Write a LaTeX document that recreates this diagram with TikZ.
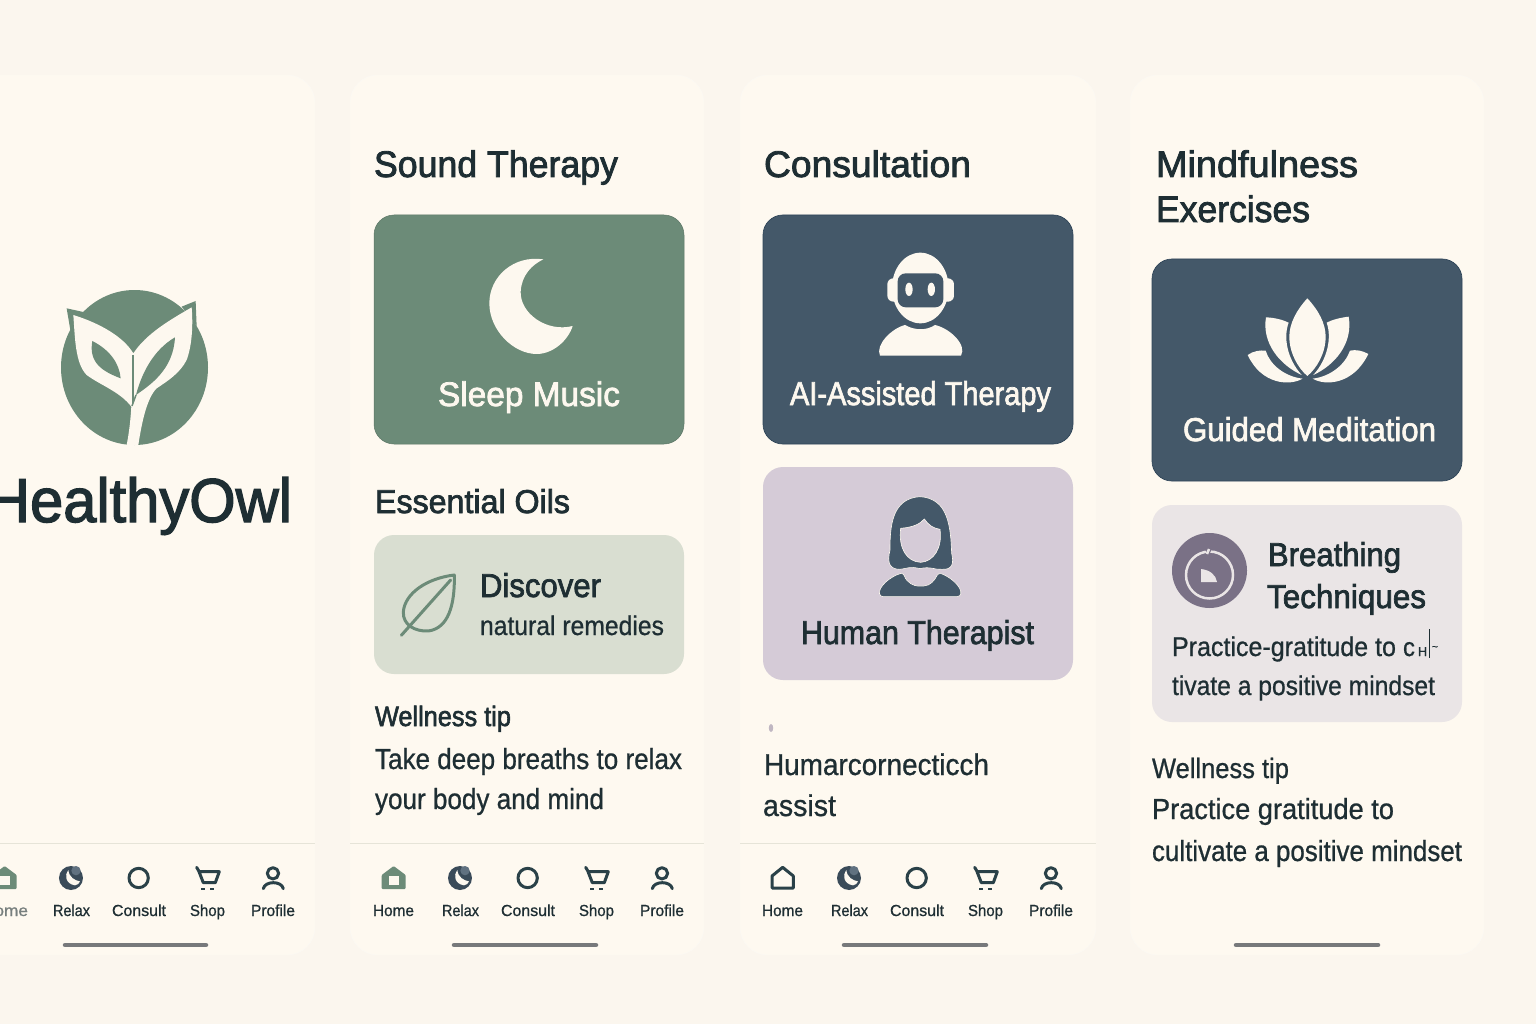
\documentclass[tikz,border=0pt]{standalone}
\usepackage{fontspec}
\usepackage{graphicx}
\setmainfont[FakeBold=0.8]{Liberation Sans}
\newfontfamily\med[FakeBold=2.2]{Liberation Sans}
\definecolor{pagebg}{HTML}{FBF6EE}
\definecolor{panelbg}{HTML}{FEF9F0}
\definecolor{sage}{HTML}{6C8B78}
\definecolor{slate}{HTML}{445869}
\definecolor{slateedge}{HTML}{2F4558}
\definecolor{cream}{HTML}{FDF8EF}
\definecolor{mist}{HTML}{D9DED1}
\definecolor{lilac}{HTML}{D5CBD7}
\definecolor{pale}{HTML}{EAE5E6}
\definecolor{plum}{HTML}{7A7186}
\definecolor{ink}{HTML}{1E2E33}
\definecolor{navink}{HTML}{2A4148}
\definecolor{rulec}{HTML}{E6E4D8}
\definecolor{barc}{HTML}{77797B}
\tikzset{
  txt/.style={anchor=base west,inner sep=0pt,outer sep=0pt},
  panel/.style={fill=panelbg,draw=panelbg!96!black!40,line width=.4pt,rounded corners=28pt},
  card/.style={rounded corners=20pt},
  navstroke/.style={draw=navink,line width=3pt,line cap=round,line join=round},
  homebar/.style={draw=barc,line width=4.5pt,line cap=round},
  divider/.style={draw=rulec,line width=1pt},
}
% name, x, baseline y, width, size, colour, text
\newcommand\T[7]{\node[txt,text=#6] (#1) at (#2,#3) {\fontsize{#5}{#5}\selectfont\resizebox{#4pt}{\height}{#7}};}
\newcommand\M[7]{\node[txt,text=#6] (#1) at (#2,#3) {\fontsize{#5}{#5}\med\resizebox{#4pt}{\height}{#7}};}
% shared part of the navigation bar; #1 offset, #2 name prefix
\newcommand\navbar[2]{%
  \begin{scope}[shift={(#1,840)},x=.3333pt,y=-.3333pt]
    % relax
    \fill[slate!85!black] (213,114) circle (36);
    \fill[slate!85] (228,92) circle (14);
    \fill[cream] (205,90) .. controls (192,105) and (197,132) .. (225,136) .. controls (232,136) and (238,130) .. (240,124) .. controls (225,122) and (207,112) .. (205,90) -- cycle;
    % consult
    \draw[navstroke] (416,114) circle (29);
    % shop
    \draw[navstroke] (590,82) -- (596,92) -- (610,128) -- (646,128) -- (658,95) -- (597,95);
    \fill[navink] (602,143) rectangle (614,149);
    \fill[navink] (630,143) rectangle (642,149);
    % profile
    \draw[navstroke] (819,100) circle (17);
    \draw[navstroke] (790,146) .. controls (795,122) and (845,122) .. (850,146);
  \end{scope}
  \T{#2relax}{#1+53}{916}{37}{16}{ink}{Relax}
  \T{#2consult}{#1+112}{916}{54}{16}{ink}{Consult}
  \T{#2shop}{#1+190}{916}{35}{16}{ink}{Shop}
  \T{#2profile}{#1+251}{916}{44}{16}{ink}{Profile}
}
\begin{document}
\begin{tikzpicture}[x=1pt,y=-1pt]
\useasboundingbox (0,0) rectangle (1536,1024);
\fill[pagebg] (0,0) rectangle (1536,1024);
\begin{scope}
\clip (0,0) rectangle (1536,1024);

% panels
\path[panel] (-40,75) rectangle (315,955);
\path[panel] (350,75) rectangle (704,955);
\path[panel] (740,75) rectangle (1096,955);
\path[panel] (1130,75) rectangle (1484,955);

% dividers
\draw[divider] (0,843) -- (315,843);
\draw[divider] (350,843) -- (704,843);
\draw[divider] (740,843) -- (1096,843);

% ---------- panel 1: logo
\fill[sage] (134.5,367.5) ellipse (73.5 and 77.5);
\begin{scope}[shift={(0,270)},x=.3333pt,y=-.3333pt]
  \fill[sage] (200,115) -- (250,126) -- (212,186) -- cycle;
  \fill[sage] (587,93) -- (545,110) -- (590,168) -- cycle;
  \fill[cream] (220,135) .. controls (300,160) and (370,200) .. (400,250)
     .. controls (440,190) and (510,150) .. (575,112)
     .. controls (580,170) and (575,230) .. (560,270)
     .. controls (540,310) and (500,335) .. (470,355)
     .. controls (440,385) and (425,460) .. (415,525)
     -- (380,525)
     .. controls (388,485) and (392,445) .. (394,410)
     .. controls (360,365) and (300,345) .. (260,315)
     .. controls (225,280) and (225,200) .. (220,135) -- cycle;
  \fill[sage] (277,213) .. controls (330,240) and (358,280) .. (362,325)
     .. controls (310,305) and (265,280) .. (277,213) -- cycle;
  \fill[sage] (525,202) .. controls (460,240) and (425,310) .. (408,375)
     .. controls (450,345) and (520,300) .. (525,202) -- cycle;
  \draw[sage,line width=2pt] (399,255) -- (399,400);
  \draw[sage,line width=1.5pt] (408,375) -- (396,408);
\end{scope}
\M{brand}{-13}{522}{305}{62}{ink}{HealthyOwl}

% ---------- panel 2
\M{sound}{374}{177}{244}{37}{ink}{Sound Therapy}
\path[card,fill=sage,draw=sage!85!black,line width=.5pt] (374,215) rectangle (684,444);
\begin{scope}[shift={(480,250)},x=.3333pt,y=-.3333pt]
  \fill[cream] (190,28) .. controls (100,15) and (28,80) .. (28,160)
     .. controls (28,240) and (100,312) .. (170,312)
     .. controls (220,312) and (265,270) .. (278,228)
     .. controls (200,248) and (120,190) .. (122,125)
     .. controls (125,75) and (155,45) .. (190,28) -- cycle;
\end{scope}
\M{sleep}{438}{406}{182}{34}{cream}{Sleep Music}
\M{oils}{375}{513}{195}{33}{ink}{Essential Oils}
\path[card,fill=mist] (374,535) rectangle (684,674);
\begin{scope}[shift={(360,530)},x=.3333pt,y=-.3333pt]
  \draw[sage,line width=3pt,line cap=round,line join=round]
    (283,135) .. controls (200,145) and (135,190) .. (130,245)
    .. controls (128,285) and (165,305) .. (205,303)
    .. controls (265,295) and (285,225) .. (283,135) -- cycle;
  \draw[sage,line width=3pt,line cap=round] (124,316) -- (272,150);
\end{scope}
\M{discover}{480}{597}{121}{33}{ink}{Discover}
\T{natural}{480}{635}{184}{27}{ink}{natural remedies}
\M{tiphead}{375}{726}{136}{28}{ink}{Wellness tip}
\T{tip1}{375}{769}{307}{29}{ink}{Take deep breaths to relax}
\T{tip2}{375}{809}{229}{29}{ink}{your body and mind}

% ---------- panel 3
\M{consult}{764}{177}{207}{37}{ink}{Consultation}
\path[card,fill=slate,draw=slateedge,line width=.7pt] (763,215) rectangle (1073,444);
\begin{scope}[shift={(760,230)},x=.3333pt,y=-.3333pt]
  \fill[cream,rounded corners=6pt] (382,145) rectangle (582,215);
  \fill[cream] (481,174) ellipse (85 and 106);
  \fill[slate,rounded corners=8pt] (413,130) rectangle (550,232);
  \fill[cream] (447,178) ellipse (11 and 20);
  \fill[cream] (514,178) ellipse (11 and 20);
  \fill[cream] (360,377) .. controls (345,345) and (395,295) .. (435,285)
     .. controls (465,302) and (500,302) .. (525,285)
     .. controls (570,295) and (622,345) .. (603,377) -- cycle;
\end{scope}
\M{aitxt}{790}{405}{261}{33}{cream}{AI-Assisted Therapy}
\path[card,fill=lilac] (763,467) rectangle (1073,680);
\begin{scope}[shift={(760,470)},x=.3333pt,y=-.3333pt]
  \filldraw[fill=slate,draw=cream,line width=.6pt] (480,80) .. controls (395,85) and (390,170) .. (390,240)
     .. controls (380,280) and (390,298) .. (420,298)
     .. controls (440,296) and (450,288) .. (480,296)
     .. controls (510,288) and (525,300) .. (545,298)
     .. controls (578,300) and (582,280) .. (575,250)
     .. controls (572,170) and (565,85) .. (480,80) -- cycle;
  \filldraw[fill=lilac,draw=cream,line width=.6pt] (422,175) .. controls (460,172) and (480,162) .. (493,147)
     .. controls (505,165) and (520,175) .. (540,178)
     .. controls (548,235) and (520,275) .. (482,277)
     .. controls (440,275) and (415,235) .. (422,175) -- cycle;
  \filldraw[fill=slate,draw=cream,line width=.6pt,rounded corners=3pt] (360,380) .. controls (355,350) and (390,320) .. (430,308)
     .. controls (440,340) and (465,348) .. (482,348)
     .. controls (510,348) and (525,330) .. (535,308)
     .. controls (570,320) and (606,350) .. (601,380) -- cycle;
\end{scope}
\M{humantxt}{801}{644}{233}{33}{ink}{Human Therapist}
\fill[lilac!90!black] (771,728) ellipse (2.2 and 4);
\T{humar}{764}{775}{225}{30}{ink}{Humarcornecticch}
\T{assist}{763}{816}{73}{30}{ink}{assist}

% ---------- panel 4
\M{mind1}{1156}{177}{202}{37}{ink}{Mindfulness}
\M{mind2}{1156}{222}{154}{37}{ink}{Exercises}
\path[card,fill=slate,draw=slateedge,line width=.7pt] (1152,259) rectangle (1462,481);
\begin{scope}[shift={(1150,280)},x=.3333pt,y=-.3333pt]
  \fill[cream] (472,55) .. controls (440,90) and (418,130) .. (418,170) .. controls (418,220) and (445,265) .. (472,288)
     .. controls (500,265) and (527,220) .. (527,170) .. controls (527,130) and (505,90) .. (472,55) -- cycle;
  \fill[cream] (348,112) .. controls (375,113) and (400,120) .. (416,128)
     .. controls (400,170) and (410,235) .. (455,285)
     .. controls (390,255) and (335,190) .. (348,112) -- cycle;
  \fill[cream] (596,110) .. controls (570,113) and (545,120) .. (530,128)
     .. controls (545,170) and (535,235) .. (490,285)
     .. controls (555,255) and (610,190) .. (596,110) -- cycle;
  \fill[cream] (293,225) .. controls (310,213) and (330,210) .. (347,212)
     .. controls (360,255) and (405,290) .. (458,296)
     .. controls (420,318) and (335,315) .. (293,225) -- cycle;
  \fill[cream] (655,222) .. controls (638,212) and (618,208) .. (600,212)
     .. controls (585,255) and (540,290) .. (488,296)
     .. controls (525,318) and (610,315) .. (655,222) -- cycle;
\end{scope}
\M{guided}{1183}{441}{253}{33}{cream}{Guided Meditation}
\path[card,fill=pale] (1152,505) rectangle (1462,722);
\fill[plum] (1209.5,570.5) circle (37.5);
\draw[pale,line width=2.5pt] (1209.5,575) circle (23.5);
\fill[plum] (1203,546) -- (1209,556) -- (1213,545) -- cycle;
\draw[pale,line width=2.5pt] (1209,549) -- (1207,554);
\fill[pale] (1201,569) .. controls (1210,570) and (1216,575) .. (1217,582) -- (1201,582) -- cycle;
\M{breath1}{1268}{566}{133}{33}{ink}{Breathing}
\M{breath2}{1267}{608}{159}{33}{ink}{Techniques}
\T{prac}{1172}{656}{224}{27}{ink}{Practice-gratitude to}
\T{glc}{1403}{656}{12}{26}{ink}{c}
\T{glh}{1418}{656}{9}{13}{ink}{H}
\draw[ink,line width=.7pt] (1429,629) -- (1429,658);
\T{glt}{1432}{650}{6}{10}{ink}{\char`\~}
\T{tivate}{1172}{695}{263}{27}{ink}{tivate a positive mindset}
\T{wt4}{1152}{778}{137}{28}{ink}{Wellness tip}
\T{pg4}{1152}{819}{242}{29}{ink}{Practice gratitude to}
\T{cu4}{1152}{861}{310}{29}{ink}{cultivate a positive mindset}

% ---------- nav bars
\navbar{0}{a}
\navbar{389}{b}
\navbar{778}{c}
% home icons
\begin{scope}[shift={(0,840)},x=.3333pt,y=-.3333pt]
  \fill[sage,rounded corners=1pt] (14,78) -- (50,105) -- (50,147) -- (-22,147) -- (-22,105) -- cycle;
  \fill[cream] (1,107) rectangle (30,135);
\end{scope}
\T{ahome}{-18}{916}{46}{16}{ink!60!cream}{Home}
\begin{scope}[shift={(389,840)},x=.3333pt,y=-.3333pt]
  \fill[sage,rounded corners=1pt] (14,78) -- (50,105) -- (50,147) -- (-22,147) -- (-22,105) -- cycle;
  \fill[cream] (1,107) rectangle (30,135);
\end{scope}
\T{bhome}{373}{916}{41}{16}{ink}{Home}
\begin{scope}[shift={(778,840)},x=.3333pt,y=-.3333pt]
  \draw[navstroke] (14,82) -- (46,108) -- (46,144) -- (-18,144) -- (-18,108) -- cycle;
\end{scope}
\T{chome}{762}{916}{41}{16}{ink}{Home}

% home indicators
\draw[homebar] (65,945) -- (206,945);
\draw[homebar] (454,945) -- (596,945);
\draw[homebar] (844,945) -- (986,945);
\draw[homebar] (1236,945) -- (1378,945);
\end{scope}
\end{tikzpicture}
\end{document}
